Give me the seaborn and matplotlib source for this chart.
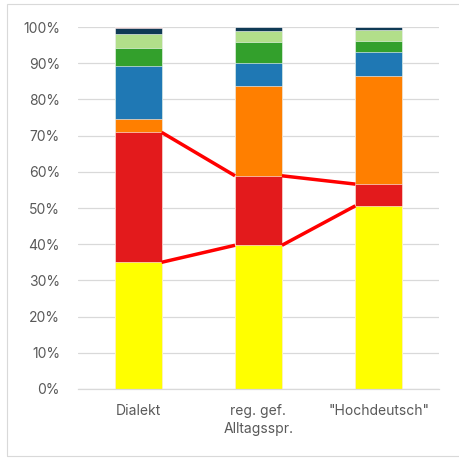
import numpy as np
import pandas as pd
import matplotlib
matplotlib.use("Agg")
import matplotlib.pyplot as plt
import seaborn as sns
from matplotlib.patches import Rectangle
from matplotlib.ticker import PercentFormatter

categories = ["Dialekt", "reg. gef.\nAlltagsspr.", "\"Hochdeutsch\""]

# shares per speech register, bottom to top (percent)
seg_yellow = [35.0, 39.7, 50.6]
seg_red = [35.9, 19.2, 6.0]
seg_orange = [3.6, 24.8, 30.0]
seg_blue = [14.7, 6.4, 6.5]
seg_green = [5.0, 5.7, 3.0]
seg_lightgreen = [3.9, 3.1, 3.2]
seg_navy = [1.6, 1.0, 0.7]
seg_pink = [0.3, 0.1, 0.0]

segments = [seg_yellow, seg_red, seg_orange, seg_blue, seg_green,
            seg_lightgreen, seg_navy, seg_pink]
colors = ["#FFFF00", "#E31A1C", "#FF7F00", "#1F78B4", "#33A02C",
          "#B2DF8A", "#0F3A55", "#F4A6A6"]

cum = np.cumsum(np.array(segments), axis=0) / 100.0

sns.set_theme(style="white")
plt.rcParams["font.family"] = ["Inter", "DejaVu Sans"]

fig = plt.figure(figsize=(4.59, 4.58), dpi=100)
ax = fig.add_axes([0.1699, 0.1507, 0.9564 - 0.1699, 0.941 - 0.1507])

# outer frame
fig.patches.append(Rectangle((7 / 459, 1 - 456 / 458), 1.2, 452 / 458,
                             transform=fig.transFigure, fill=False,
                             edgecolor="#D9D9D9", linewidth=0.8, zorder=0))

bar_width = 0.39
# stack by drawing cumulative totals from the top layer downward
for i in range(len(segments) - 1, -1, -1):
    df = pd.DataFrame({"cat": categories, "val": cum[i]})
    sns.barplot(data=df, x="cat", y="val", color=colors[i], width=bar_width,
                saturation=1, ax=ax, edgecolor="#FFFFFF", linewidth=0.4,
                zorder=2)

# connecting lines for the two lowest layers
for level in (cum[0], cum[1]):
    for j in range(len(categories) - 1):
        ax.plot([j + bar_width / 2, j + 1 - bar_width / 2],
                [level[j], level[j + 1]], color="#FF0000", linewidth=2.5,
                solid_capstyle="butt", zorder=4)

ax.set_xlim(-0.5, 2.5)
ax.set_ylim(0, 1)
ax.set_yticks(np.arange(0, 1.01, 0.1))
ax.yaxis.set_major_formatter(PercentFormatter(1.0, decimals=0))
ax.grid(axis="y", color="#D9D9D9", linewidth=0.9, zorder=0)
ax.set_axisbelow(True)
ax.set_xlabel("")
ax.set_ylabel("")
for side in ("top", "right", "left"):
    ax.spines[side].set_visible(False)
ax.spines["bottom"].set_color("#D9D9D9")
ax.spines["bottom"].set_linewidth(0.9)
ax.tick_params(axis="y", length=0, pad=13, labelsize=10, labelcolor="#595959")
ax.tick_params(axis="x", length=0, pad=11, labelsize=10, labelcolor="#595959")
for lbl in ax.get_xticklabels():
    lbl.set_linespacing(1.35)

fig.savefig("out.png", dpi=100)
